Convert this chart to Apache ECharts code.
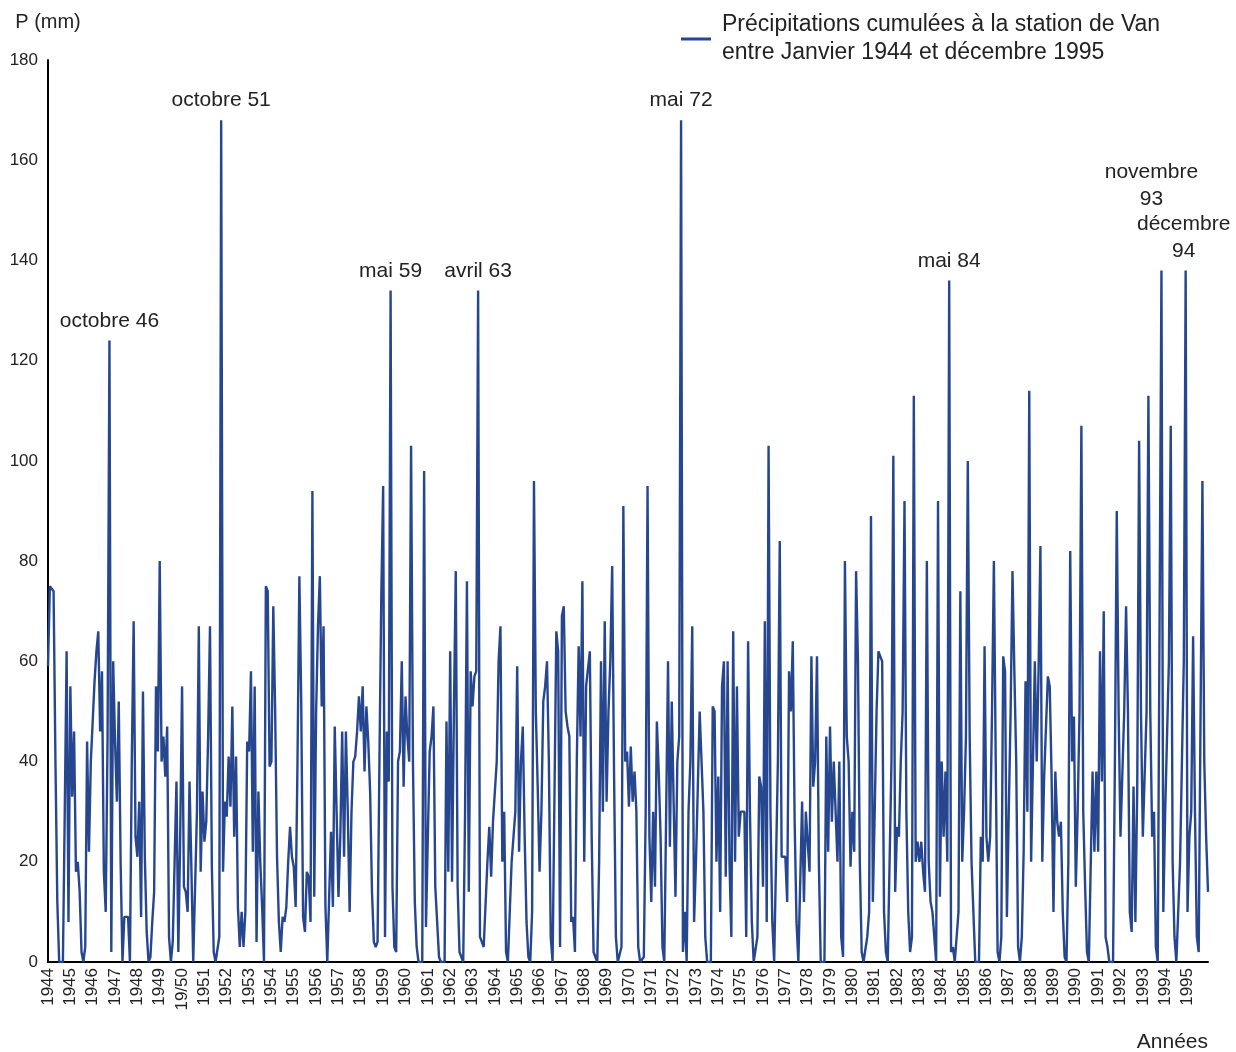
<!DOCTYPE html>
<html>
<head>
<meta charset="utf-8">
<script src="https://cdn.jsdelivr.net/npm/echarts@6/dist/echarts.min.js"></script>
<style>
html,body{margin:0;padding:0;background:#fff;}
#chart{width:1236px;height:1052px;}
</style>
</head>
<body>
<div id="chart"></div>
<script>
// Year tick labels (as printed on the original, incl. "19/50")
const yearLabels = ['1944','1945','1946','1947','1948','1949','19/50','1951','1952','1953','1954','1955','1956','1957','1958','1959','1960','1961','1962','1963','1964','1965','1966','1967','1968','1969','1970','1971','1972','1973','1974','1975','1976','1977','1978','1979','1980','1981','1982','1983','1984','1985','1986','1987','1988','1989','1990','1991','1992','1993','1994','1995'];

// Monthly precipitation (mm), one row per year, Jan..Dec
const p1944 = [59, 75, 75, 74, 40, 12, 0, 0, 0, 30, 62, 8];
const p1945 = [55, 33, 46, 18, 20, 14, 2, 0, 3, 44, 22, 40];
const p1946 = [48, 56, 62, 66, 46, 58, 18, 10, 45, 124, 2, 60];
const p1947 = [44, 32, 52, 20, 0, 9, 9, 9, 0, 40, 68, 25];
const p1948 = [21, 32, 9, 54, 21, 6, 0, 1, 8, 14, 55, 42];
const p1949 = [80, 40, 45, 37, 47, 5, 0, 4, 20, 36, 2, 25];
const p1950 = [55, 15, 14, 10, 36, 19, 0, 0, 30, 67, 18, 34];
const p1951 = [24, 28, 45, 67, 19, 2, 0, 0, 5, 168, 18, 32];
const p1952 = [29, 41, 31, 51, 25, 41, 11, 3, 10, 3, 10, 44];
const p1953 = [42, 58, 22, 55, 4, 34, 20, 11, 0, 75, 74, 39];
const p1954 = [40, 71, 50, 21, 8, 2, 9, 8, 11, 20, 27, 21];
const p1955 = [19, 11, 40, 77, 52, 9, 6, 18, 17, 8, 94, 13];
const p1956 = [50, 67, 77, 51, 67, 11, 0, 0, 26, 11, 47, 47];
const p1957 = [13, 25, 46, 21, 46, 30, 10, 30, 40, 41, 46, 53];
const p1958 = [46, 55, 38, 51, 44, 34, 14, 4, 3, 4, 40, 73];
const p1959 = [95, 5, 46, 36, 134, 15, 3, 2, 40, 42, 60, 35];
const p1960 = [53, 45, 40, 103, 40, 12, 3, 0, 0, 0, 98, 7];
const p1961 = [25, 42, 45, 51, 15, 15, 1, 0, 0, 0, 48, 18];
const p1962 = [62, 16, 50, 78, 15, 2, 1, 0, 30, 76, 14, 58];
const p1963 = [51, 57, 58, 134, 5, 4, 3, 3, 20, 27, 17, 28];
const p1964 = [28, 40, 60, 67, 20, 30, 2, 0, 0, 20, 25, 30];
const p1965 = [59, 22, 40, 47, 25, 8, 1, 0, 10, 96, 50, 35];
const p1966 = [18, 30, 52, 55, 60, 40, 5, 0, 0, 66, 62, 3];
const p1967 = [69, 71, 50, 47, 45, 8, 9, 2, 40, 63, 45, 76];
const p1968 = [20, 55, 55, 62, 25, 2, 1, 0, 20, 60, 30, 68];
const p1969 = [32, 50, 60, 79, 38, 5, 0, 0, 3, 91, 40, 42];
const p1970 = [31, 43, 32, 38, 30, 3, 0, 0, 1, 30, 95, 25];
const p1971 = [12, 30, 15, 48, 38, 25, 3, 0, 0, 60, 23, 52];
const p1972 = [32, 13, 40, 45, 168, 2, 10, 0, 30, 40, 67, 8];
const p1973 = [20, 35, 50, 40, 30, 5, 0, 0, 0, 51, 50, 20];
const p1974 = [37, 10, 55, 60, 17, 60, 20, 5, 66, 20, 55, 25];
const p1975 = [30, 30, 30, 5, 64, 30, 8, 0, 0, 5, 37, 35];
const p1976 = [15, 68, 8, 103, 30, 8, 0, 0, 40, 84, 21, 21];
const p1977 = [21, 12, 58, 50, 64, 28, 8, 0, 0, 32, 12, 30];
const p1978 = [30, 18, 61, 35, 40, 61, 20, 0, 0, 0, 45, 22];
const p1979 = [47, 28, 40, 40, 20, 40, 5, 1, 80, 45, 40, 19];
const p1980 = [30, 22, 78, 60, 20, 2, 0, 0, 5, 10, 89, 12];
const p1981 = [30, 50, 62, 61, 60, 10, 2, 0, 0, 40, 101, 14];
const p1982 = [27, 25, 40, 50, 92, 30, 10, 2, 5, 113, 20, 24];
const p1983 = [20, 24, 18, 14, 80, 20, 12, 10, 5, 0, 92, 13];
const p1984 = [40, 25, 38, 20, 136, 2, 3, 0, 0, 10, 74, 20];
const p1985 = [30, 45, 100, 45, 20, 10, 0, 0, 0, 25, 20, 63];
const p1986 = [25, 20, 25, 50, 80, 40, 2, 0, 5, 61, 58, 9];
const p1987 = [30, 50, 78, 58, 40, 3, 0, 5, 22, 56, 30, 114];
const p1988 = [20, 40, 60, 40, 58, 83, 20, 37, 37, 57, 55, 37];
const p1989 = [10, 38, 28, 25, 28, 10, 1, 0, 20, 82, 40, 49];
const p1990 = [15, 30, 50, 107, 30, 15, 2, 0, 0, 38, 22, 38];
const p1991 = [22, 62, 36, 70, 5, 3, 0, 0, 0, 40, 90, 50];
const p1992 = [25, 25, 50, 71, 50, 10, 6, 35, 8, 35, 104, 50];
const p1993 = [25, 25, 50, 113, 50, 25, 30, 3, 0, 0, 138, 10];
const p1994 = [30, 30, 60, 107, 20, 5, 0, 0, 20, 40, 60, 138];
const p1995 = [10, 25, 30, 65, 30, 5, 2, 2, 96, 40, 25, 14];

// Annotated extremes: label text and month index (0 = janvier 1944)
const annotationLabels = ['octobre 46', 'octobre 51', 'mai 59', 'avril 63', 'mai 72', 'mai 84', 'novembre\n93', 'décembre\n94'];
const annotationIdx = [33, 93, 184, 231, 340, 484, 598, 611];

const seriesName = 'Précipitations cumulées à la station de Van\nentre Janvier 1944 et décembre 1995';

const years = [p1944,p1945,p1946,p1947,p1948,p1949,p1950,p1951,p1952,p1953,p1954,p1955,p1956,p1957,p1958,p1959,p1960,p1961,p1962,p1963,p1964,p1965,p1966,p1967,p1968,p1969,p1970,p1971,p1972,p1973,p1974,p1975,p1976,p1977,p1978,p1979,p1980,p1981,p1982,p1983,p1984,p1985,p1986,p1987,p1988,p1989,p1990,p1991,p1992,p1993,p1994,p1995];
const values = [].concat(...years);
const categories = [];
years.forEach((row, yi) => row.forEach((v, mi) => categories.push((1944 + yi) + '-' + (mi + 1))));

const FONT = '"Liberation Sans", Arial, sans-serif';

const labelOffsets = {6: [-10, -52], 7: [-2, 0]};
const markData = annotationLabels.map((t, i) => {
  const idx = annotationIdx[i];
  const d = {
    name: t,
    coord: [categories[idx], values[idx]]
  };
  if (labelOffsets[i]) d.label = {offset: labelOffsets[i]};
  return d;
});

const chart = echarts.init(document.getElementById('chart'));
chart.setOption({
  animation: false,
  backgroundColor: '#ffffff',
  grid: {left: 48, right: 28, top: 60, bottom: 90, containLabel: false},
  legend: {
    show: true,
    left: 676,
    top: 6,
    icon: 'rect',
    itemWidth: 30,
    itemHeight: 3,
    textStyle: {fontFamily: FONT, fontSize: 23, lineHeight: 28, color: '#222', padding: [0, 0, 0, 6]},
    data: [seriesName]
  },
  xAxis: {
    type: 'category',
    data: categories,
    boundaryGap: false,
    axisLine: {show: true, lineStyle: {color: '#000', width: 2}},
    axisTick: {show: false},
    splitLine: {show: false},
    axisLabel: {
      interval: function (index) { return index % 12 === 0; },
      formatter: function (value, index) { return yearLabels[Math.floor(index / 12)]; },
      rotate: 90,
      margin: 6,
      fontFamily: FONT,
      fontSize: 17,
      color: '#222',
      hideOverlap: false
    }
  },
  yAxis: {
    type: 'value',
    min: 0,
    max: 180,
    interval: 20,
    name: 'P (mm)',
    nameLocation: 'end',
    nameGap: 28,
    nameTextStyle: {fontFamily: FONT, fontSize: 20, color: '#222'},
    axisLine: {show: true, lineStyle: {color: '#000', width: 2}},
    axisTick: {show: false},
    splitLine: {show: false},
    axisLabel: {margin: 10, fontFamily: FONT, fontSize: 17, color: '#222'}
  },
  graphic: [{
    type: 'text',
    right: 28,
    top: 1032,
    style: {text: 'Années', fontFamily: FONT, fontSize: 21, fill: '#222'}
  }],
  series: [{
    name: seriesName,
    type: 'line',
    data: values,
    showSymbol: false,
    symbol: 'none',
    lineStyle: {color: '#26478f', width: 2.4},
    itemStyle: {color: '#26478f'},
    markPoint: {
      symbol: 'circle',
      symbolSize: 0,
      itemStyle: {color: 'rgba(0,0,0,0)'},
      label: {
        show: true,
        position: 'top',
        distance: 6,
        formatter: '{b}',
        fontFamily: FONT,
        fontSize: 21,
        lineHeight: 27,
        color: '#222',
        align: 'center'
      },
      data: markData
    }
  }]
});
</script>
</body>
</html>
